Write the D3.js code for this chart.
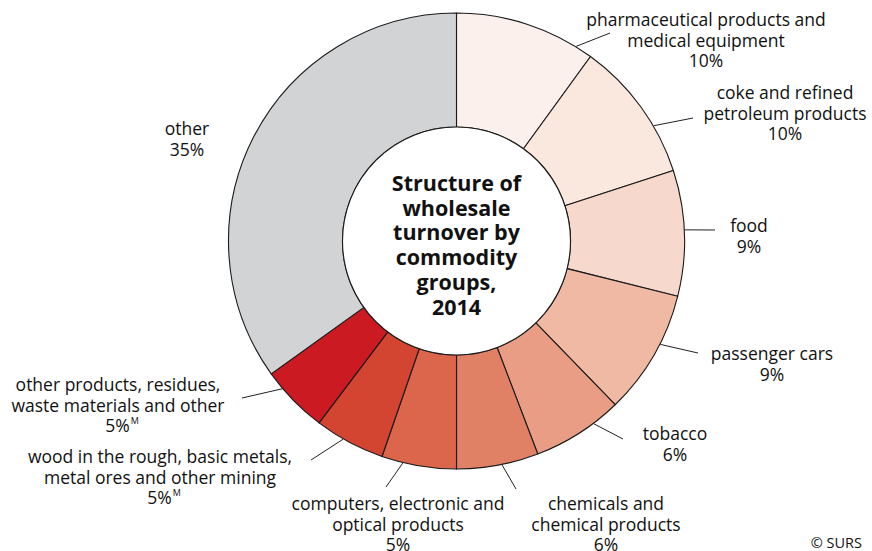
<!DOCTYPE html>
<html>
<head>
<meta charset="utf-8">
<script src="https://cdn.jsdelivr.net/npm/d3@7"></script>
<style>
  html, body { margin: 0; padding: 0; background: #fff; }
  svg { display: block; }
  text { font-family: "Open Sans", "Noto Sans", sans-serif; fill: #111; }
</style>
</head>
<body>
<svg id="chart" width="872" height="551"></svg>
<script>
// ---- data ----
const categories = [
  "pharmaceutical products and medical equipment",
  "coke and refined petroleum products",
  "food",
  "passenger cars",
  "tobacco",
  "chemicals and chemical products",
  "computers, electronic and optical products",
  "wood in the rough, basic metals, metal ores and other mining",
  "other products, residues, waste materials and other",
  "other"
];
const values = [10.0, 10.0, 8.9, 8.85, 6.45, 5.8, 5.3, 5.0, 4.8, 34.9];
const percentLabels = ["10%", "10%", "9%", "9%", "6%", "6%", "5%", "5%", "5%", "35%"];
const flags = ["", "", "", "", "", "", "", "M", "M", ""];
const labelLines = [
  ["pharmaceutical products and", "medical equipment"],
  ["coke and refined", "petroleum products"],
  ["food"],
  ["passenger cars"],
  ["tobacco"],
  ["chemicals and", "chemical products"],
  ["computers, electronic and", "optical products"],
  ["wood in the rough, basic metals,", "metal ores and other mining"],
  ["other products, residues,", "waste materials and other"],
  ["other"]
];
const colors = ["#fbf0eb", "#fae7de", "#f6d9cc", "#efb9a3", "#e99d84", "#e08166",
                "#dc664b", "#d34530", "#cc1a22", "#d1d3d4"];
const titleLines = ["Structure of", "wholesale", "turnover by", "commodity", "groups,", "2014"];
const source = "© SURS";

// ---- layout (positions only) ----
const W = 872, H = 551;
const cx = 456.5, cy = 241, R = 228, r = 114;
const lineH = 20.5;
const fontSize = 17.5;
const labelLayout = [
  { x: 706, y: 20,  lead: [31.6, 610, 33] },
  { x: 785, y: 93,  lead: [59.7, 693, 118] },
  { x: 749, y: 226, lead: [87.2, 715, 230] },
  { x: 772, y: 354, lead: [116.9, 698, 353] },
  { x: 675, y: 434, lead: [143.1, 623, 439] },
  { x: 606, y: 504, lead: [168.5, 516, 489] },
  { x: 398, y: 504, lead: [193.6, 386, 487] },
  { x: 160, y: 457, lead: [209.8, 311, 460] },
  { x: 118, y: 385, lead: [229.7, 242, 398] },
  { x: 187, y: 129, lead: null }
];

const svg = d3.select("#chart");
const g = svg.append("g").attr("transform", `translate(${cx},${cy})`);

const pie = d3.pie().sort(null).value(d => d)(values);
const arc = d3.arc().innerRadius(r).outerRadius(R);

g.selectAll("path.slice")
  .data(pie)
  .join("path")
  .attr("class", "slice")
  .attr("d", arc)
  .attr("fill", (d, i) => colors[i])
  .attr("stroke", "#1a1a1a")
  .attr("stroke-width", 1.1)
  .attr("stroke-linejoin", "round");

g.append("circle").attr("r", r).attr("fill", "#fff").attr("stroke", "#1a1a1a").attr("stroke-width", 1.1);

// leaders
labelLayout.forEach((L, i) => {
  if (!L.lead) return;
  const a = L.lead[0] * Math.PI / 180;
  const x1 = cx + (R + 0.5) * Math.sin(a), y1 = cy - (R + 0.5) * Math.cos(a);
  svg.append("line")
    .attr("x1", x1).attr("y1", y1)
    .attr("x2", L.lead[1]).attr("y2", L.lead[2])
    .attr("stroke", "#222").attr("stroke-width", 1);
});

// labels
labelLayout.forEach((L, i) => {
  const lines = labelLines[i];
  const t = svg.append("text")
    .attr("text-anchor", "middle")
    .attr("font-size", fontSize);
  lines.forEach((ln, k) => {
    t.append("tspan").attr("x", L.x).attr("y", L.y + k * lineH).attr("dy", "0.36em").text(ln);
  });
  const py = L.y + lines.length * lineH;
  const pt = svg.append("text")
    .attr("text-anchor", "middle")
    .attr("font-size", fontSize)
    .attr("x", L.x + (flags[i] ? 4 : 0))
    .attr("y", py).attr("dy", "0.36em");
  pt.append("tspan").text(percentLabels[i]);
  if (flags[i]) {
    pt.append("tspan").attr("font-size", 9).attr("dy", "-0.95em").attr("dx", 1).text(flags[i]);
  }
});

// title
const tt = svg.append("text")
  .attr("text-anchor", "middle")
  .attr("font-size", 21.5)
  .attr("font-weight", "bold");
titleLines.forEach((ln, k) => {
  tt.append("tspan").attr("x", cx).attr("y", 183.3 + k * 24.7).attr("dy", "0.36em").text(ln);
});

// source
svg.append("text").attr("x", 862).attr("y", 543).attr("dy", "0.36em")
  .attr("text-anchor", "end").attr("font-size", 14.5).text(source);
</script>
</body>
</html>
